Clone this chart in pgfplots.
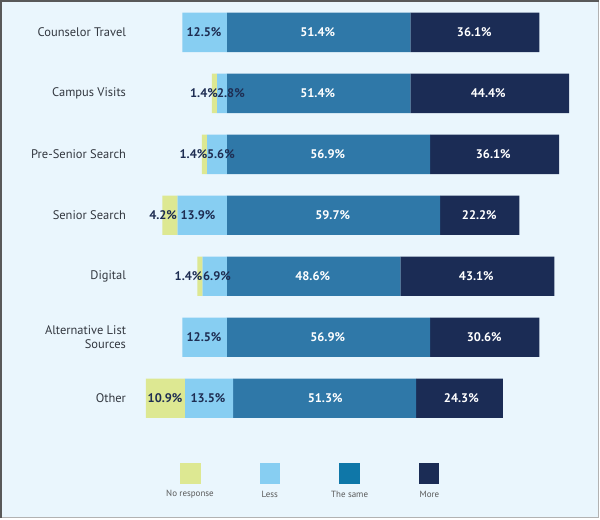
\documentclass[border=0pt]{standalone}
\usepackage{pgfplots}
\pgfplotsset{compat=1.18}
\usepackage{fontspec}
\setmainfont{PT Sans}
\definecolor{bg}{HTML}{EAF6FD}
\definecolor{nr}{HTML}{DDE892}
\definecolor{less}{HTML}{87CEF2}
\definecolor{same}{HTML}{2F78A8}
\definecolor{samelg}{HTML}{0F77A8}
\definecolor{more}{HTML}{1B2C55}
\definecolor{lab}{HTML}{333840}
\definecolor{dk}{HTML}{1E2D52}
\begin{document}
\begin{tikzpicture}
\fill[bg] (0,0) rectangle (600pt,519pt);
\draw[color=black!30, line width=1pt] (0,0.5pt) -- (599.5pt,0.5pt) -- (599.5pt,519pt);
\draw[color=black!65, line width=2pt] (1pt,0) -- (1pt,518pt) -- (600pt,518pt);
% bars: x in percent, baseline = start of "The same"
\begin{axis}[at={(0,0)}, anchor=south west, scale only axis,
  width=600pt, height=519pt,
  xmin=-63.41, xmax=104.19, ymin=0, ymax=519, y dir=reverse,
  hide axis, xbar stacked, stack negative=on previous, bar width=39.5, clip=false]
% invisible offset
\addplot[draw=none, fill=none] coordinates {
 (-12.5,32) (-4.2,93.1) (-7.0,154.2) (-18.1,215.3) (-8.3,276.4) (-12.5,337.6) (-22.7,398.7)};
% No response
\addplot[draw=none, fill=nr] coordinates {
 (0,32) (1.4,93.1) (1.4,154.2) (4.2,215.3) (1.4,276.4) (0,337.6) (10.9,398.7)};
% Less
\addplot[draw=none, fill=less] coordinates {
 (12.5,32) (2.8,93.1) (5.6,154.2) (13.9,215.3) (6.9,276.4) (12.5,337.6) (13.5,398.7)};
% The same
\addplot[draw=none, fill=same] coordinates {
 (51.4,32) (51.4,93.1) (56.9,154.2) (59.7,215.3) (48.6,276.4) (56.9,337.6) (51.3,398.7)};
% More
\addplot[draw=none, fill=more] coordinates {
 (36.1,32) (44.4,93.1) (36.1,154.2) (22.2,215.3) (43.1,276.4) (30.6,337.6) (24.3,398.7)};
\end{axis}
% labels, categories, legend: pixel coordinates
\begin{axis}[at={(0,0)}, anchor=south west, scale only axis,
  width=600pt, height=519pt,
  xmin=0, xmax=600, ymin=0, ymax=519, y dir=reverse,
  hide axis, clip=false]
\addplot[only marks, mark=none, nodes near coords, point meta=explicit symbolic,
  nodes near coords align=center,
  every node near coord/.append style={font=\fontsize{12.5}{12.5}\selectfont\bfseries, text=dk, anchor=center, inner sep=0pt}]
 table[meta=label] {
x y label
204 32 12.5\%
204 93.1 1.4\%
231 93.1 2.8\%
193.5 154.2 1.4\%
221 154.2 5.6\%
163 215.3 4.2\%
198 215.3 13.9\%
188.5 276.4 1.4\%
217 276.4 6.9\%
204 337.6 12.5\%
165 398.7 10.9\%
208 398.7 13.5\%
};
\addplot[only marks, mark=none, nodes near coords, point meta=explicit symbolic,
  nodes near coords align=center,
  every node near coord/.append style={font=\fontsize{12.5}{12.5}\selectfont\bfseries, text=white, anchor=center, inner sep=0pt}]
 table[meta=label] {
x y label
318 32 51.4\%
475 32 36.1\%
318 93.1 51.4\%
489 93.1 44.4\%
328 154.2 56.9\%
494 154.2 36.1\%
333 215.3 59.7\%
480 215.3 22.2\%
313 276.4 48.6\%
477 276.4 43.1\%
328 337.6 56.9\%
485 337.6 30.6\%
325.5 398.7 51.3\%
462 398.7 24.3\%
};
\begin{scope}[every node/.style={anchor=east, text=lab, font=\fontsize{12.5}{13.5}\selectfont, align=right, inner sep=0pt}]
\node at (axis cs:126,32) {Counselor Travel};
\node at (axis cs:126,93.1) {Campus Visits};
\node at (axis cs:126,154.2) {Pre-Senior Search};
\node at (axis cs:126,215.3) {Senior Search};
\node at (axis cs:126,276.4) {Digital};
\node at (axis cs:126,337.6) {Alternative List\\Sources};
\node at (axis cs:126,398.7) {Other};
\end{scope}
% legend
\fill[nr] (axis cs:180,464) rectangle (axis cs:200.5,484.5);
\fill[less] (axis cs:260,464) rectangle (axis cs:280.5,484.5);
\fill[samelg] (axis cs:339.5,464) rectangle (axis cs:360,484.5);
\fill[more] (axis cs:419.5,464) rectangle (axis cs:440,484.5);
\begin{scope}[every node/.style={anchor=center, text=black!65, font=\fontsize{9}{9}\selectfont, inner sep=0pt}]
\node at (axis cs:190,495) {No response};
\node at (axis cs:270,495) {Less};
\node at (axis cs:350,495) {The same};
\node at (axis cs:430,495) {More};
\end{scope}
\end{axis}
\end{tikzpicture}
\end{document}
